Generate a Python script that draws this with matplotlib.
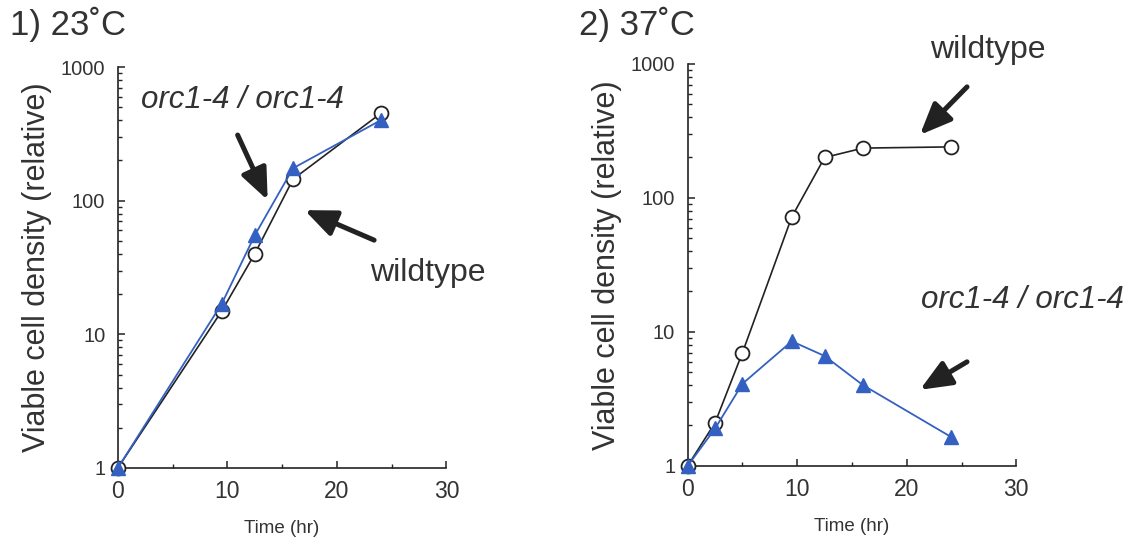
import matplotlib
matplotlib.use("Agg")
import matplotlib.pyplot as plt
from matplotlib.ticker import FixedLocator, FixedFormatter, LogLocator, NullFormatter

plt.rcParams['font.family'] = ['Liberation Sans', 'DejaVu Sans']

# 23 C panel
t23_wt = [0, 9.5, 12.5, 16, 24]
wt23 = [1, 15, 40, 145, 450]
t23_orc = [0, 9.5, 12.5, 16, 24]
orc23 = [1, 17, 55, 175, 400]

# 37 C panel
t37 = [0, 2.5, 5, 9.5, 12.5, 16, 24]
wt37 = [1, 2.1, 7, 72, 200, 235, 240]
orc37 = [1, 1.9, 4.1, 8.5, 6.6, 4.0, 1.65]

titles = ["1) 23\u02daC", "2) 37\u02daC"]
ytick_vals = [1, 10, 100, 1000]
ytick_labels = ["1", "10", "100", "1000"]

txt = '#333333'
blue = '#3461c1'

fig = plt.figure(figsize=(11.33, 5.41), dpi=100)
ax1 = fig.add_axes([0.104, 0.135, 0.290, 0.741])
ax2 = fig.add_axes([0.607, 0.139, 0.290, 0.743])


def style(ax):
    ax.set_yscale('log')
    ax.set_xlim(0, 30)
    ax.set_ylim(1, 1000)
    for s in ['top', 'right']:
        ax.spines[s].set_visible(False)
    for s in ['left', 'bottom']:
        ax.spines[s].set_color('#222222')
        ax.spines[s].set_linewidth(1.2)
    ax.yaxis.set_major_locator(FixedLocator(ytick_vals))
    ax.yaxis.set_major_formatter(FixedFormatter(ytick_labels))
    ax.yaxis.set_minor_locator(LogLocator(base=10, subs=range(2, 10)))
    ax.yaxis.set_minor_formatter(NullFormatter())
    ax.set_xticks([0, 10, 20, 30])
    ax.set_xticks([5, 15, 25], minor=True)
    ax.tick_params(which='both', direction='in', colors='#222222')
    ax.tick_params(which='major', length=5, width=1.1)
    ax.tick_params(which='minor', length=3, width=1.0)
    ax.tick_params(axis='y', which='major', labelcolor=txt, labelsize=14.5, pad=9)
    ax.tick_params(axis='x', which='major', labelcolor=txt, labelsize=16.5, pad=9)
    ax.set_xlabel("Time (hr)", fontsize=13.5, color=txt, labelpad=12)
    ax.set_ylabel("Viable cell density (relative)", fontsize=22, color=txt, labelpad=6)
    ax.patch.set_alpha(0)


arrow = dict(arrowstyle='-|>,head_width=0.8,head_length=1.9', lw=3.6, color='#222222',
             shrinkA=0, shrinkB=0)

# panel 1
ax1.plot(t23_wt, wt23, color='#222222', lw=1.2, marker='o', ms=10,
         mfc='white', mec='#222222', mew=1.3, clip_on=False, zorder=3)
ax1.plot(t23_orc, orc23, color=blue, lw=1.3, marker='^', ms=10,
         mfc=blue, mec=blue, clip_on=False, zorder=4)
style(ax1)
ax1.text(11.4, 565, "orc1-4 / orc1-4", style='italic', fontsize=22.5, color=txt,
         ha='center', va='center')
ax1.annotate("", xy=(13.68, 101), xytext=(10.94, 310), arrowprops=arrow)
ax1.annotate("", xy=(17.05, 85), xytext=(23.4, 50.7), arrowprops=arrow)
ax1.text(28.3, 29, "wildtype", fontsize=23, color=txt, ha='center', va='center')

# panel 2
ax2.plot(t37, wt37, color='#222222', lw=1.2, marker='o', ms=10,
         mfc='white', mec='#222222', mew=1.3, clip_on=False, zorder=3)
ax2.plot(t37, orc37, color=blue, lw=1.3, marker='^', ms=10,
         mfc=blue, mec=blue, clip_on=False, zorder=4)
style(ax2)
ax2.annotate("wildtype", xy=(27.4, 1271), fontsize=23, color=txt,
             ha='center', va='center', annotation_clip=False)
ax2.annotate("", xy=(21.2, 295), xytext=(25.5, 673), arrowprops=arrow)
ax2.annotate("orc1-4 / orc1-4", xy=(30.6, 17.3), fontsize=22.5, style='italic',
             color=txt, ha='center', va='center', annotation_clip=False)
ax2.annotate("", xy=(21.2, 3.69), xytext=(25.5, 5.97), arrowprops=arrow)

fig.text(0.009, 0.955, titles[0], fontsize=25, color=txt, ha='left', va='center')
fig.text(0.511, 0.955, titles[1], fontsize=25, color=txt, ha='left', va='center')

fig.savefig("out.png", dpi=100)
